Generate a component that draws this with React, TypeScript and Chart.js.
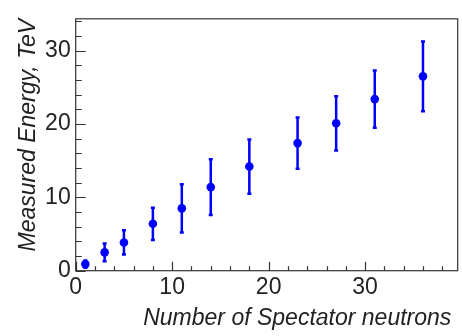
import React, { useEffect, useRef } from "react";
import { Chart, registerables } from "chart.js";

Chart.register(...registerables);

const neutrons = [1, 3, 5, 8, 11, 14, 18, 23, 27, 31, 36];
const energy = [0.9, 2.5, 3.85, 6.4, 8.5, 11.4, 14.2, 17.4, 20.1, 23.4, 26.5];
const energyErr = [0.5, 1.2, 1.65, 2.2, 3.3, 3.8, 3.7, 3.5, 3.7, 3.9, 4.75];
const xMajorTicks = [0, 10, 20, 30];
const yMajorTicks = [0, 10, 20, 30];
const xTitle = "Number of Spectator neutrons ";
const yTitle = "Measured Energy, TeV";

const FONT = "'Liberation Sans', Arial, Helvetica, sans-serif";
const BLUE = "#0000ff";
const AXIS = "#333333";

const errorBarPlugin = {
  id: "errorBars",
  beforeDatasetsDraw(chart: any) {
    const { ctx, scales } = chart;
    const xs = scales.x;
    const ys = scales.y;
    ctx.save();
    ctx.strokeStyle = BLUE;
    ctx.lineWidth = 2.5;
    for (let i = 0; i < neutrons.length; i++) {
      const px = xs.getPixelForValue(neutrons[i]);
      const top = ys.getPixelForValue(energy[i] + energyErr[i]);
      const bot = ys.getPixelForValue(energy[i] - energyErr[i]);
      ctx.beginPath();
      ctx.moveTo(px, top);
      ctx.lineTo(px, bot);
      ctx.moveTo(px - 2, top);
      ctx.lineTo(px + 2, top);
      ctx.moveTo(px - 2, bot);
      ctx.lineTo(px + 2, bot);
      ctx.stroke();
    }
    ctx.restore();
  },
};

const framePlugin = {
  id: "rootFrame",
  afterDatasetsDraw(chart: any) {
    const { ctx, chartArea, scales } = chart;
    const { left, right, top, bottom } = chartArea;
    ctx.save();
    ctx.strokeStyle = AXIS;
    ctx.lineWidth = 1.2;
    ctx.strokeRect(left, top, right - left, bottom - top);
    ctx.beginPath();
    // x ticks (inside, pointing up)
    for (let v = 0; v <= scales.x.max; v += 2) {
      const px = Math.round(scales.x.getPixelForValue(v)) + 0.5;
      const len = v % 10 === 0 ? 9 : 4.5;
      ctx.moveTo(px, bottom);
      ctx.lineTo(px, bottom - len);
    }
    // y ticks (inside, pointing right)
    for (let v = 0; v <= scales.y.max; v += 2) {
      const py = Math.round(scales.y.getPixelForValue(v)) + 0.5;
      const len = v % 10 === 0 ? 10 : 6;
      ctx.moveTo(left, py);
      ctx.lineTo(left + len, py);
    }
    ctx.stroke();
    ctx.restore();
  },
};

export default function App() {
  const ref = useRef<HTMLCanvasElement | null>(null);

  useEffect(() => {
    if (!ref.current) return;
    const chart = new Chart(ref.current, {
      type: "scatter",
      data: {
        datasets: [
          {
            data: neutrons.map((x, i) => ({ x, y: energy[i] })),
            pointRadius: 4.3,
            pointHoverRadius: 4.3,
            backgroundColor: BLUE,
            borderColor: BLUE,
            borderWidth: 0,
          },
        ],
      },
      options: {
        animation: false,
        responsive: false,
        devicePixelRatio: 1,
        events: [],
        layout: { padding: { top: 11.7, right: 1.5, left: 0, bottom: 0 } },
        plugins: {
          legend: { display: false },
          tooltip: { enabled: false },
        },
        scales: {
          x: {
            type: "linear",
            position: "bottom",
            min: 0,
            max: 39.6,
            grid: { display: false, drawTicks: false },
            border: { display: false },
            afterBuildTicks: (s: any) => {
              s.ticks = xMajorTicks.map((value) => ({ value }));
            },
            afterFit: (s: any) => {
              s.height = 65.3;
            },
            ticks: {
              font: { family: FONT, size: 23 },
              color: "#222",
              padding: 3,
              maxRotation: 0,
              autoSkip: false,
            },
            title: {
              display: true,
              text: xTitle,
              align: "end",
              color: "#222",
              font: { family: FONT, size: 23, style: "italic" },
              padding: { top: 0, bottom: 4 },
            },
          },
          y: {
            type: "linear",
            position: "left",
            min: 0,
            max: 34.35,
            grid: { display: false, drawTicks: false },
            border: { display: false },
            afterBuildTicks: (s: any) => {
              s.ticks = yMajorTicks.map((value) => ({ value }));
            },
            afterFit: (s: any) => {
              s.width = 75.7;
            },
            ticks: {
              font: { family: FONT, size: 23 },
              color: "#222",
              padding: 5,
              autoSkip: false,
            },
            title: {
              display: true,
              text: yTitle,
              align: "end",
              color: "#222",
              font: { family: FONT, size: 23, style: "italic" },
              padding: { top: 15, bottom: 0 },
            },
          },
        },
      },
      plugins: [errorBarPlugin, framePlugin],
    } as any);
    return () => chart.destroy();
  }, []);

  return (
    <div style={{ position: "absolute", left: 0, top: 0, width: 462, height: 336, background: "#fff" }}>
      <canvas ref={ref} width={462} height={336} style={{ display: "block" }} />
    </div>
  );
}
